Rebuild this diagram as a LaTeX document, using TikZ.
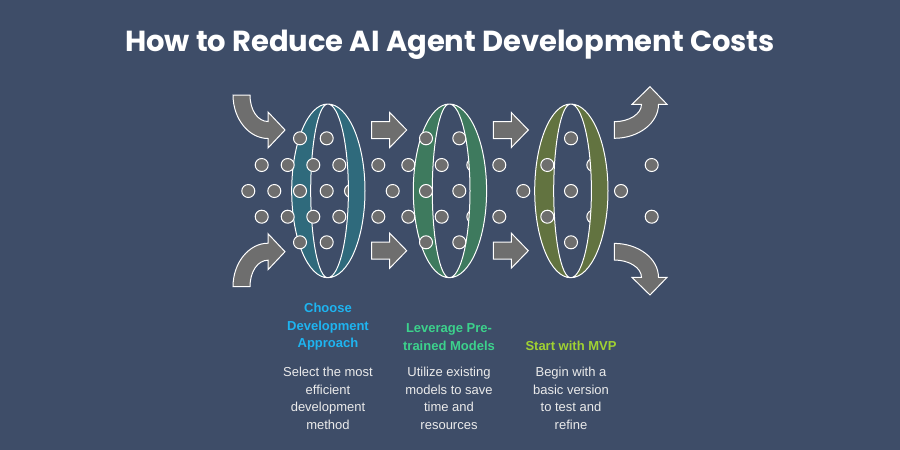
\documentclass[tikz,border=0pt]{standalone}
\usepackage{fontspec}
\setmainfont{Liberation Sans}
\newfontfamily\titlefont{Poppins}
\definecolor{bgc}{HTML}{3E4D68}
\definecolor{dotc}{HTML}{6E6E6E}
\definecolor{ringA}{HTML}{2F6A7C}
\definecolor{ringB}{HTML}{3E7A5E}
\definecolor{ringC}{HTML}{627340}
\definecolor{headA}{HTML}{1EB4F0}
\definecolor{headB}{HTML}{3CD28C}
\definecolor{headC}{HTML}{A0D232}
\begin{document}
\begin{tikzpicture}[x=1pt,y=-1pt,
  dot/.style={circle,fill=dotc,draw=white,line width=1pt,minimum size=13pt,inner sep=0pt},
  arr/.style={fill=dotc,draw=white,line width=1pt,line join=miter},
  ring/.style={draw=white,line width=1pt,even odd rule},
  head/.style={font=\bfseries\fontsize{13}{17.5}\selectfont,align=center,anchor=south},
  desc/.style={font=\fontsize{13}{17.5}\selectfont,text=white!92!black,align=center,anchor=north}]
\fill[bgc] (0,0) rectangle (900,450);
\node[font=\titlefont\bfseries\fontsize{29}{34}\selectfont,text=white] (title) at (450,45) {How to Reduce AI Agent Development Costs};
% dots behind rings
\node[dot] (db1) at (351,191) {};
\node[dot] (db2) at (473.3,165) {};
\node[dot] (db3) at (473.3,216.7) {};
\node[dot] (db4) at (593.3,165) {};
\node[dot] (db5) at (593.3,216.7) {};
% rings
\foreach \cx/\col in {327.7/ringA,449.3/ringB,570.7/ringC}{
  \path[ring,fill=\col] (\cx,104) arc[start angle=-90,end angle=-270,x radius=36,y radius=86.85]
      arc[start angle=90,end angle=-90,x radius=37.3,y radius=86.85]
      (\cx,104) arc[start angle=-90,end angle=-270,x radius=17,y radius=86.85]
      arc[start angle=90,end angle=-90,x radius=20.7,y radius=86.85];
}
% dots
\foreach \i/\x/\y in {1/300/138.3,2/326.7/138.3,3/261.7/165,4/287.7/165,5/313.3/165,6/339.3/165,
  7/248.3/191,8/274.3/191,9/300/191,10/326.7/191,11/261.7/216.7,12/287.7/216.7,13/313.3/216.7,14/339.3/216.7,
  15/300/242.3,16/326.7/242.3,
  17/426/138.3,18/459.3/138.3,19/378.3/165,20/408.3/165,21/441.7/165,22/499.3/165,
  23/392.7/191,24/426/191,25/459.3/191,26/378.3/216.7,27/408.3/216.7,28/441.7/216.7,29/499.3/216.7,
  30/426/242.3,31/459.3/242.3,
  32/571/138.3,33/547.3/165,34/651.7/165,35/523.3/191,36/571/191,37/621/191,
  38/547.3/216.7,39/651.7/216.7,40/571/242.3}{
  \node[dot] (d\i) at (\x,\y) {};
}
% straight arrows
\foreach \n/\x/\y in {s1/371.7/130,s2/371.7/250.7,s3/493.3/130,s4/493.3/250.7}{
  \path[arr] (\x,\y-8.5) -- (\x+18,\y-8.5) -- (\x+18,\y-17.5) -- (\x+35,\y) -- (\x+18,\y+17.5)
     -- (\x+18,\y+8.5) -- (\x,\y+8.5) -- cycle;
}
% curved arrows
\path[arr] (233,95) -- (250,95) .. controls (250,110.5) and (258,121.5) .. (268,121.5) -- (268,112) -- (285,130) -- (268,148) -- (268,138.5) .. controls (249,138.5) and (233,119) .. (233,95) -- cycle;
\path[arr] (233,286.7) -- (250,286.7) .. controls (250,271.2) and (258,260.2) .. (268,260.2) -- (268,269.7) -- (285,251.7) -- (268,233.7) -- (268,243.2) .. controls (249,243.2) and (233,262.7) .. (233,286.7) -- cycle;
\path[arr] (614.3,121.7) .. controls (629,121.7) and (641.5,114) .. (641.5,104.3) -- (632,104.3) -- (650,86.7) -- (667,104.3) -- (658.5,104.3) .. controls (658.5,123) and (638.6,138.3) .. (614.3,138.3) -- cycle;
\path[arr] (614.3,260) .. controls (629,260) and (641.5,267.7) .. (641.5,277.4) -- (632,277.4) -- (650,295) -- (667,277.4) -- (658.5,277.4) .. controls (658.5,258.7) and (638.6,243.4) .. (614.3,243.4) -- cycle;
% labels
\node[head,text=headA] (h1) at (328,354) {Choose\\Development\\Approach};
\node[head,text=headB] (h2) at (449,354) {Leverage Pre-\\trained Models};
\node[head,text=headC] (h3) at (571,354) {Start with MVP};
\node[desc] (t1) at (328,364) {Select the most\\efficient\\development\\method};
\node[desc] (t2) at (449,364) {Utilize existing\\models to save\\time and\\resources};
\node[desc] (t3) at (571,364) {Begin with a\\basic version\\to test and\\refine};
\end{tikzpicture}
\end{document}
